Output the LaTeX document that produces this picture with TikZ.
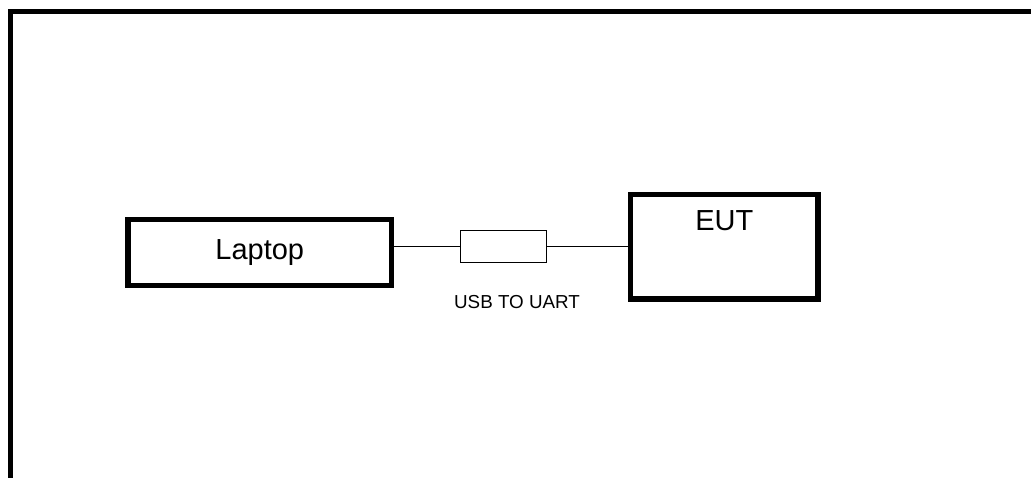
\documentclass[tikz,border=0pt]{standalone}
\usepackage{fontspec}
\setmainfont{Liberation Sans}
\begin{document}
\begin{tikzpicture}[x=1pt,y=-1pt,
  bigbox/.style={draw, line width=5.5pt, fill=white, inner sep=0pt},
  smallbox/.style={draw, line width=1.4pt, inner sep=0pt, minimum width=86.5pt, minimum height=32pt},
  wire/.style={line width=1.4pt},
  frame/.style={line width=5pt, line join=miter},
  bigtext/.style={font=\fontsize{29}{34}\selectfont},
  smalltext/.style={font=\fontsize{18.8}{22}\selectfont, inner sep=0pt}
]
\useasboundingbox (0,0) rectangle (1031,477);
\fill[white] (0,0) rectangle (1031,477);
% frame (only top and left visible)
\coordinate (fbl) at (10.5,490);
\coordinate (ftl) at (10.5,11.5);
\coordinate (ftr) at (1045,11.5);
\draw[frame] (fbl) -- (ftl) -- (ftr);
% nodes
\node[bigbox, bigtext, minimum width=263.5pt, minimum height=66pt] (laptop) at (259.75,252.5) {Laptop};
\node[bigbox, minimum width=187.5pt, minimum height=104.5pt] (eut) at (724.25,246.75) {};
\node[bigtext, anchor=north, inner sep=0pt] (eutlabel) at ([yshift=-18.8pt]eut.north) {EUT};
\node[smallbox] (usb) at (503.5,246.5) {};
\node[smalltext, anchor=base] (usblabel) at (517,308.3) {USB TO UART};
% wires
\draw[wire] (usb.west) -- (usb.west -| laptop.east);
\draw[wire] (usb.east) -- (usb.east -| eut.west);
\end{tikzpicture}
\end{document}
